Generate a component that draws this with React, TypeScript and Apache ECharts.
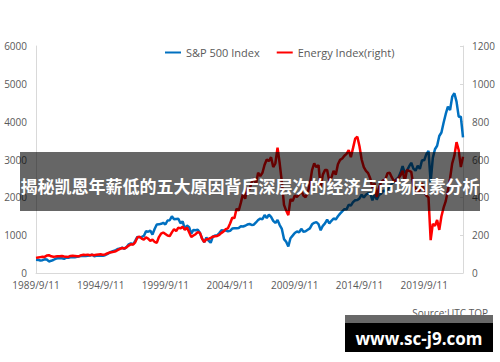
import React, { useEffect, useRef } from "react";
import * as echarts from "echarts";

// two-monthly dates from 1989/9/11 to 2022/9/11
const categories: string[] = [];
for (let i = 0; i < 199; i++) {
  const m = 9 + 2 * i;
  const y = 1989 + Math.floor((m - 1) / 12);
  const mo = ((m - 1) % 12) + 1;
  categories.push(`${y}/${mo}/11`);
}

const sp500: number[] = [
  349, 346,
  329, 339, 361, 356, 306, 322,
  344, 375, 389, 387, 388, 375,
  408, 403, 415, 424, 418, 431,
  439, 451, 450, 448, 458, 462,
  482, 445, 456, 458, 462, 454,
  470, 500, 533, 562, 584, 605,
  636, 645, 669, 640, 687, 757,
  786, 757, 848, 954, 947, 955,
  980, 1101, 1090, 1120, 1017, 1163,
  1280, 1286, 1301, 1328, 1282, 1388,
  1394, 1498, 1420, 1430, 1436, 1315,
  1366, 1160, 1255, 1211, 1040, 1139,
  1130, 1147, 1067, 911, 815, 936,
  856, 800, 964, 990, 996, 1058,
  1131, 1126, 1121, 1102, 1114, 1174,
  1181, 1181, 1192, 1234, 1229, 1249,
  1280, 1295, 1270, 1277, 1336, 1401,
  1438, 1421, 1531, 1455, 1540, 1481,
  1378, 1323, 1400, 1267, 1166, 896,
  826, 700, 919, 987, 1057, 1096,
  1074, 1169, 1089, 1102, 1141, 1180,
  1286, 1326, 1345, 1292, 1131, 1247,
  1312, 1408, 1310, 1379, 1441, 1416,
  1498, 1569, 1631, 1686, 1682, 1806,
  1783, 1872, 1924, 1931, 1972, 2068,
  1995, 2068, 2107, 2104, 1920, 2080,
  1940, 2060, 2097, 2174, 2168, 2199,
  2279, 2363, 2412, 2470, 2519, 2648,
  2824, 2641, 2705, 2816, 2914, 2760,
  2704, 2834, 2752, 2980, 2977, 3141,
  3226, 2400, 3044, 3271, 3363, 3622,
  3714, 3973, 4204, 4395, 4308, 4660,
  4750, 4530, 4132, 4130, 3586,
];

const energy: number[] = [
  80, 82,
  84, 86, 85, 92, 94, 88,
  86, 87, 89, 88, 90, 87,
  86, 85, 90, 91, 90, 88,
  89, 94, 96, 95, 97, 94,
  96, 94, 97, 98, 99, 96,
  98, 103, 108, 110, 112, 115,
  122, 128, 132, 130, 136, 145,
  152, 150, 162, 188, 192, 182,
  176, 188, 182, 170, 176, 165,
  160, 190, 208, 214, 206, 198,
  195, 215, 232, 222, 240, 236,
  244, 228, 240, 215, 190, 198,
  205, 216, 212, 182, 164, 178,
  180, 185, 192, 194, 196, 202,
  212, 220, 232, 236, 262, 292,
  290, 340, 330, 372, 420, 392,
  450, 440, 480, 500, 470, 530,
  512, 530, 572, 600, 592, 612,
  560, 580, 662, 580, 480, 360,
  330, 306, 390, 380, 410, 402,
  415, 435, 410, 400, 425, 472,
  544, 580, 560, 570, 450, 520,
  544, 545, 485, 505, 540, 520,
  575, 598, 605, 620, 630, 650,
  612, 660, 710, 720, 670, 600,
  560, 540, 528, 500, 450, 475,
  402, 450, 480, 490, 495, 528,
  530, 505, 485, 490, 500, 515,
  540, 485, 544, 540, 535, 460,
  450, 423, 440, 476, 430, 410,
  400, 174, 260, 250, 280, 228,
  300, 345, 380, 438, 500, 580,
  620, 692, 650, 560, 614,
];

const seriesNames = ["S&P 500 Index", "Energy Index(right)"];
const titleText = "揭秘凯恩年薪低的五大原因背后深层次的经济与市场因素分析";
const sourceText = "Source:UTC.TOP";
const watermarkText = "www.sc-j9.com";

export default function App() {
  const ref = useRef<HTMLDivElement>(null);
  useEffect(() => {
    if (!ref.current) return;
    document.body.style.margin = "0";
    const chart = echarts.init(ref.current, undefined, { renderer: "svg" });
    const axisColor = "#595959";
    const lineColor = "#d9d9d9";
    const plain = (v: number) => String(v);
    chart.setOption({
      animation: false,
      backgroundColor: "#ffffff",
      textStyle: { fontFamily: "Open Sans" },
      grid: { left: 36, right: 37, top: 46, bottom: 89, containLabel: false },
      legend: {
        left: 165,
        top: 47,
        padding: 0,
        itemWidth: 16,
        itemHeight: 2,
        itemGap: 17,
        icon: "rect",
        textStyle: { fontSize: 11, color: axisColor, fontFamily: "Open Sans" },
        data: seriesNames,
      },
      xAxis: {
        type: "category",
        data: categories,
        boundaryGap: false,
        axisLine: { show: true, lineStyle: { color: lineColor } },
        axisTick: { show: false },
        axisLabel: {
          interval: 29,
          color: axisColor,
          fontSize: 10,
          margin: 7,
          fontFamily: "Open Sans",
        },
        splitLine: { show: false },
      },
      yAxis: [
        {
          type: "value",
          min: 0,
          max: 6000,
          interval: 1000,
          axisLine: { show: true, lineStyle: { color: lineColor } },
          axisTick: { show: false },
          axisLabel: { color: axisColor, fontSize: 10, margin: 9, fontFamily: "Open Sans", formatter: plain },
          splitLine: { show: false },
        },
        {
          type: "value",
          min: 0,
          max: 1200,
          interval: 200,
          position: "right",
          axisLine: { show: true, lineStyle: { color: lineColor } },
          axisTick: { show: true, length: 3, inside: true, lineStyle: { color: lineColor } },
          axisLabel: { color: axisColor, fontSize: 10, margin: 9, fontFamily: "Open Sans", formatter: plain },
          splitLine: { show: false },
        },
      ],
      series: [
        {
          name: seriesNames[0],
          type: "line",
          data: sp500,
          yAxisIndex: 0,
          showSymbol: false,
          symbol: "none",
          lineStyle: { color: "#0070C0", width: 2.5 },
          itemStyle: { color: "#0070C0" },
          z: 2,
        },
        {
          name: seriesNames[1],
          type: "line",
          data: energy,
          yAxisIndex: 1,
          showSymbol: false,
          symbol: "none",
          lineStyle: { color: "#FF0000", width: 2.5 },
          itemStyle: { color: "#FF0000" },
          z: 3,
        },
      ],
      graphic: [
        {
          type: "rect",
          z: 100,
          shape: { x: 20, y: 152, width: 460, height: 59 },
          style: { fill: "rgba(0,0,0,0.6)" },
        },
        {
          type: "text",
          z: 101,
          x: 250,
          y: 185,
          style: {
            text: titleText,
            fill: "#ffffff",
            fontSize: 17,
            fontWeight: "bold",
            fontFamily: "Noto Sans CJK SC",
            align: "center",
            verticalAlign: "middle",
          },
        },
        {
          type: "text",
          z: 100,
          x: 488,
          y: 313,
          style: {
            text: sourceText,
            fill: "#595959",
            fontSize: 10,
            fontFamily: "Open Sans",
            align: "right",
            verticalAlign: "middle",
          },
        },
        {
          type: "rect",
          z: 101,
          shape: { x: 345, y: 315, width: 148, height: 8 },
          style: { fill: "#686868" },
        },
        {
          type: "rect",
          z: 101,
          shape: { x: 345, y: 323, width: 148, height: 29 },
          style: { fill: "#000000" },
        },
        {
          type: "text",
          z: 102,
          x: 419,
          y: 338,
          style: {
            text: watermarkText,
            fill: "#ffffff",
            fontSize: 17,
            fontWeight: "bold",
            fontFamily: "Open Sans",
            align: "center",
            verticalAlign: "middle",
          },
        },
      ],
    });
    return () => chart.dispose();
  }, []);
  return <div ref={ref} style={{ width: 500, height: 362 }} />;
}
